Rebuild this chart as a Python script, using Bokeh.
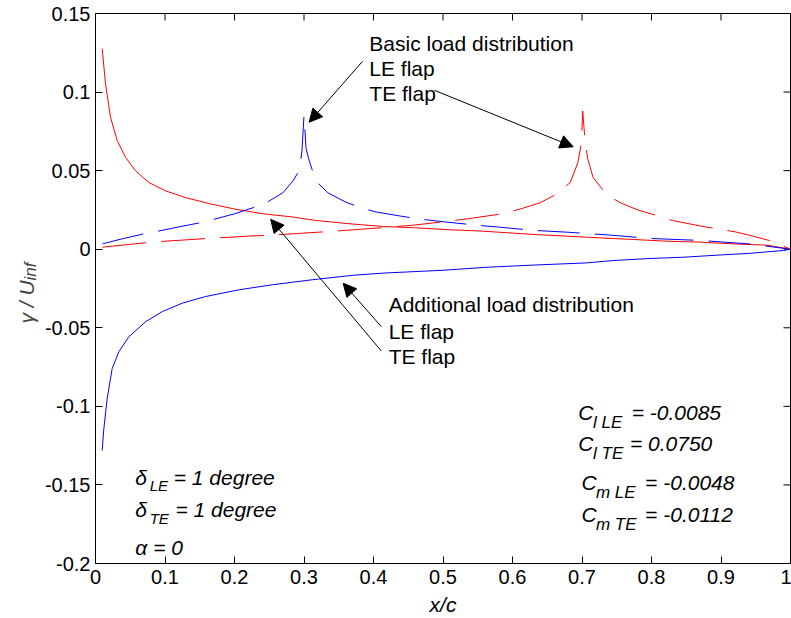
import math
from bokeh.plotting import figure
from bokeh.layouts import row
from bokeh.models import Label, Arrow, NormalHead, FixedTicker
from bokeh.embed import file_html
from bokeh.resources import INLINE

# ---------------- data ----------------
# Additional load distribution, TE flap (red solid)
add_te_x = [0.0096, 0.0144, 0.0216, 0.0313, 0.0433, 0.0577, 0.077, 0.101, 0.13, 0.164,
            0.202, 0.24, 0.284, 0.317, 0.365, 0.413, 0.461, 0.509, 0.557, 0.63,
            0.678, 0.726, 0.774, 0.822, 0.87, 0.918, 0.966, 1.0]
add_te_y = [0.1277, 0.1053, 0.084, 0.0691, 0.0584, 0.0499, 0.0424, 0.0371, 0.0328, 0.029,
            0.0254, 0.0226, 0.0205, 0.0183, 0.0162, 0.0145, 0.0136, 0.0124, 0.0115, 0.0094,
            0.0083, 0.0072, 0.0062, 0.0051, 0.0045, 0.0034, 0.0026, 0.0]

# Additional load distribution, LE flap (blue solid)
add_le_x = [0.0096, 0.012, 0.0168, 0.024, 0.0337, 0.048, 0.0722, 0.0962, 0.125, 0.1587,
            0.2068, 0.255, 0.3126, 0.37, 0.418, 0.5, 0.562, 0.63, 0.707, 0.745,
            0.798, 0.846, 0.894, 0.942, 0.99, 1.0]
add_le_y = [-0.1281, -0.1143, -0.0951, -0.0759, -0.0652, -0.0557, -0.0461, -0.0397, -0.0343, -0.0301,
            -0.0258, -0.0226, -0.0194, -0.0166, -0.0151, -0.0134, -0.0115, -0.0101, -0.0087, -0.0072,
            -0.0059, -0.0051, -0.0038, -0.0026, -0.0008, 0.0]

# Basic load distribution, LE flap (blue dashed)
bas_le_x = [0.01, 0.04, 0.07, 0.09, 0.12, 0.15, 0.17, 0.20, 0.23, 0.25,
            0.27, 0.285, 0.293, 0.297, 0.300, 0.303, 0.307, 0.317, 0.334, 0.36,
            0.384, 0.404, 0.44, 0.466, 0.5, 0.55, 0.58, 0.63, 0.68, 0.74,
            0.80, 0.87, 0.94, 1.0]
bas_le_y = [0.0034, 0.0068, 0.0098, 0.0115, 0.0142, 0.0168, 0.019, 0.0225, 0.0269, 0.0307,
            0.036, 0.044, 0.050, 0.062, 0.085, 0.064, 0.057, 0.0435, 0.036, 0.030,
            0.026, 0.0237, 0.021, 0.0192, 0.0175, 0.0152, 0.0141, 0.012, 0.0108, 0.009,
            0.0068, 0.0056, 0.0034, 0.0]

# Basic load distribution, TE flap (red dashed)
bas_te_x = [0.01, 0.07, 0.10, 0.16, 0.22, 0.27, 0.33, 0.36, 0.41, 0.46,
            0.53, 0.58, 0.61, 0.64, 0.663, 0.683, 0.694, 0.699, 0.701, 0.704,
            0.708, 0.716, 0.736, 0.755, 0.78, 0.81, 0.83, 0.87, 0.92, 0.94,
            0.97, 1.0]
bas_te_y = [0.0013, 0.004, 0.0051, 0.0068, 0.0083, 0.0094, 0.0111, 0.012, 0.0136, 0.0154,
            0.019, 0.0222, 0.0254, 0.0296, 0.035, 0.0424, 0.055, 0.067, 0.088, 0.071,
            0.058, 0.0456, 0.0345, 0.0296, 0.025, 0.0211, 0.0183, 0.0148, 0.0111, 0.009,
            0.0055, 0.0]

x_ticks = [0, 0.1, 0.2, 0.3, 0.4, 0.5, 0.6, 0.7, 0.8, 0.9, 1.0]
x_tick_labels = ["0", "0.1", "0.2", "0.3", "0.4", "0.5", "0.6", "0.7", "0.8", "0.9", "1"]
y_ticks = [-0.2, -0.15, -0.1, -0.05, 0, 0.05, 0.1, 0.15]
y_tick_labels = ["-0.2", "-0.15", "-0.1", "-0.05", "0", "0.05", "0.1", "0.15"]

FONT = "Liberation Sans"
RED = "#ff0000"
BLUE = "#0000ff"

X0, X1 = 0.0, 1.0
Y0, Y1 = -0.2, 0.15
LW = 41                      # width of the strip that holds the y-axis label
W, H = 791 - LW, 618
BL, BR, BT, BB = 50, 1, 13, 55

# ---------- strip with the rotated y-axis label ----------
yl = figure(width=LW, height=H, x_range=(0, 1), y_range=(0, 1),
            x_axis_location=None, y_axis_location=None,
            output_backend="svg", toolbar_location=None, min_border=0)
yl.grid.visible = False
yl.outline_line_color = None
yl.background_fill_color = "white"
yl.border_fill_color = "white"
yl.add_layout(Label(x=26, y=240, x_units="screen", y_units="screen", text="γ / U",
                    angle=math.pi / 2, text_font=FONT, text_font_size="21px",
                    text_font_style="italic", text_baseline="alphabetic", text_align="left"))
yl.add_layout(Label(x=30, y=283, x_units="screen", y_units="screen", text="inf",
                    angle=math.pi / 2, text_font=FONT, text_font_size="17px",
                    text_font_style="italic", text_baseline="alphabetic", text_align="left"))

# ---------- main plot ----------
p = figure(width=W, height=H, x_range=(X0, X1), y_range=(Y0, Y1),
           output_backend="svg", toolbar_location=None,
           min_border_left=BL, min_border_right=BR, min_border_top=BT, min_border_bottom=BB)
p.grid.visible = False
p.outline_line_color = "black"
p.background_fill_color = "white"
p.border_fill_color = "white"

for ax, ticks, labels in ((p.xaxis[0], x_ticks, x_tick_labels),
                          (p.yaxis[0], y_ticks, y_tick_labels)):
    ax.ticker = FixedTicker(ticks=ticks)
    ax.major_label_overrides = {t: l for t, l in zip(ticks, labels)}
    ax.major_tick_in = 7
    ax.major_tick_out = 0
    ax.minor_tick_line_color = None
    ax.axis_line_color = "black"
    ax.major_tick_line_color = "black"
    ax.major_label_text_font = FONT
    ax.major_label_text_color = "black"
    ax.major_label_text_font_size = "20px"
    ax.major_label_standoff = 5

p.xaxis[0].major_label_standoff = 6
p.xaxis[0].axis_label = "x/c"
p.xaxis[0].axis_label_text_font = FONT
p.xaxis[0].axis_label_text_font_size = "21px"
p.xaxis[0].axis_label_text_font_style = "italic"
p.xaxis[0].axis_label_text_color = "black"
p.xaxis[0].axis_label_standoff = 6

# inward ticks on the top and right edges of the box (7 px long)
frame_w = 693
frame_h = 548
tick_dx = 7 * (X1 - X0) / frame_w
tick_dy = 7 * (Y1 - Y0) / frame_h
p.segment(x0=x_ticks, y0=[Y1] * len(x_ticks), x1=x_ticks, y1=[Y1 - tick_dy] * len(x_ticks),
          line_color="black", line_width=1)
p.segment(x0=[X1] * len(y_ticks), y0=y_ticks, x1=[X1 - tick_dx] * len(y_ticks), y1=y_ticks,
          line_color="black", line_width=1)

# curves
p.line(add_te_x, add_te_y, line_color=RED, line_width=1)
p.line(add_le_x, add_le_y, line_color=BLUE, line_width=1)
p.line(bas_le_x, bas_le_y, line_color=BLUE, line_width=1, line_dash="42 15")
p.line(bas_te_x, bas_te_y, line_color=RED, line_width=1, line_dash="44 15")


def lab(x, y, text, size="21px", style="normal", **kw):
    p.add_layout(Label(x=x, y=y, text=text, text_font=FONT, text_font_size=size,
                       text_font_style=style, text_color="black",
                       text_baseline="alphabetic", **kw))


# annotation texts
lab(0.394, 0.1307, "Basic load distribution")
lab(0.394, 0.1149, "LE flap")
lab(0.394, 0.0990, "TE flap")
lab(0.4218, -0.0354, "Additional load distribution")
lab(0.4218, -0.0525, "LE flap")
lab(0.4218, -0.0684, "TE flap")

# flap deflection / angle of attack
lab(0.0573, -0.1452, "δ", style="italic")
lab(0.078, -0.1503, "LE", size="15px", style="italic")
lab(0.1126, -0.1452, "= 1 degree", style="italic")
lab(0.0573, -0.1655, "δ", style="italic")
lab(0.078, -0.1714, "TE", size="15px", style="italic")
lab(0.115, -0.1655, "= 1 degree", style="italic")
lab(0.0573, -0.19, "α = 0", style="italic")

# coefficients
coef_rows = [
    (0.6946, -0.1040, "l LE", 0.716, "= -0.0085", 0.7715),
    (0.6946, -0.1239, "l TE", 0.716, "= 0.0750", 0.769),
    (0.6994, -0.1484, "m LE", 0.720, "= -0.0048", 0.7908),
    (0.6994, -0.1687, "m TE", 0.720, "= -0.0112", 0.7908),
]
for cx, cy, sub, sx, rest, rx in coef_rows:
    lab(cx, cy, "C", style="italic")
    lab(sx, cy - 0.0062, sub, size="17px", style="italic")
    lab(rx, cy, rest, style="italic")

# arrows
arrows = [
    (0.3843, 0.1196, 0.3074, 0.0808),
    (0.4877, 0.1011, 0.6873, 0.0652),
    (0.4113, -0.0493, 0.3564, -0.0217),
    (0.4113, -0.0648, 0.2521, 0.0190),
]
for x0, y0, x1, y1 in arrows:
    p.add_layout(Arrow(end=NormalHead(size=13, fill_color="black", line_color="black",
                                      line_width=1),
                       x_start=x0, y_start=y0, x_end=x1, y_end=y1,
                       line_color="black", line_width=1))

layout = row(yl, p, spacing=0)
open("out.html", "w").write(file_html(layout, INLINE))
